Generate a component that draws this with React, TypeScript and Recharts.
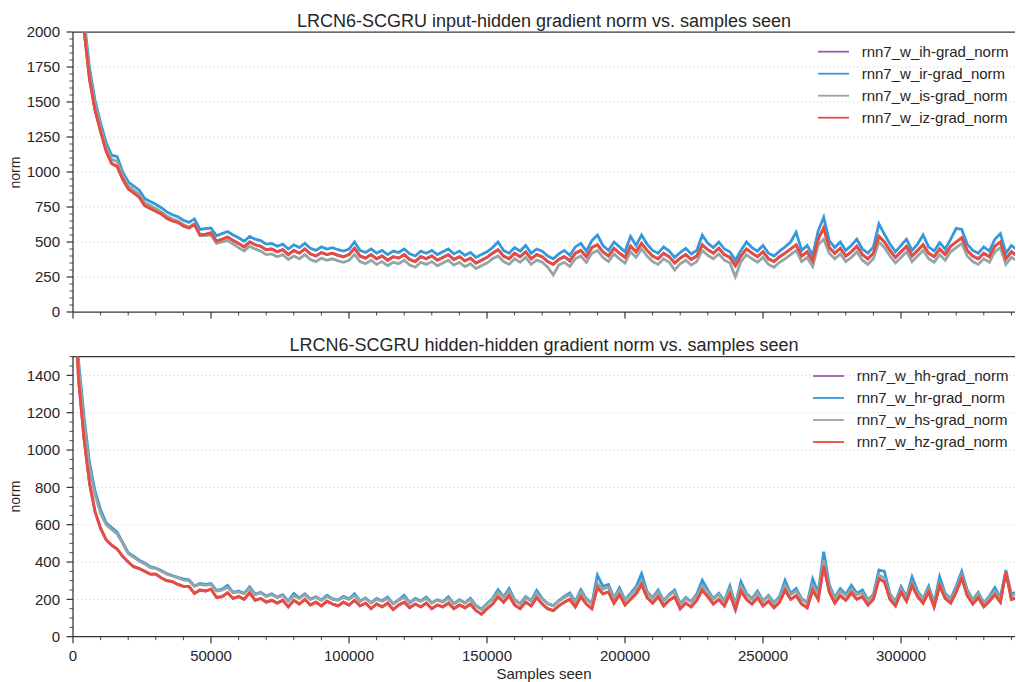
import React from 'react';
import { LineChart, Line, XAxis, YAxis, ReferenceLine } from 'recharts';

// logged every 2000 samples
const samples = Array.from({ length: 172 }, (_, i) => i * 2000);

// input-hidden gradient norms
const inputIz = [
  3200, 2500, 2010, 1660, 1440, 1290, 1150, 1060, 1040, 950,
  880, 850, 820, 760, 740, 720, 700, 670, 650, 640,
  615, 600, 625, 550, 555, 565, 505, 520, 535, 510,
  490, 465, 500, 480, 470, 445, 450, 430, 445, 410,
  440, 420, 450, 415, 400, 425, 410, 420, 405, 395,
  410, 455, 400, 385, 410, 380, 400, 370, 395, 385,
  410, 375, 360, 395, 380, 400, 370, 390, 410, 375,
  395, 365, 385, 350, 370, 390, 420, 445, 400, 380,
  420, 395, 430, 380, 410, 395, 360, 340, 375, 395,
  365, 420, 440, 395, 460, 480, 430, 400, 455, 420,
  390, 470, 430, 490, 440, 400, 380, 420, 395, 350,
  385, 410, 375, 400, 480, 445, 420, 455, 410, 390,
  330, 400, 450, 420, 395, 430, 380, 360, 395, 420,
  450, 480, 400, 430, 365, 520, 600, 460, 420, 455,
  400, 430, 470, 410, 380, 420, 540, 500, 440, 390,
  430, 470, 400, 440, 480, 420, 395, 450, 410, 470,
  500, 530, 440, 400, 380, 420, 395, 470, 500, 380,
  430, 400,
];
const inputIr = [
  3400, 2650, 2100, 1740, 1510, 1350, 1210, 1120, 1110, 1000,
  930, 900, 870, 810, 790, 770, 745, 715, 695, 680,
  655, 640, 665, 590, 595, 600, 545, 560, 575, 550,
  530, 505, 540, 520, 510, 485, 490, 470, 485, 450,
  480, 460, 490, 455, 440, 465, 450, 460, 445, 435,
  450, 500, 440, 425, 450, 420, 440, 410, 435, 425,
  450, 415, 400, 435, 420, 440, 410, 430, 450, 415,
  435, 405, 425, 390, 410, 430, 460, 500, 440, 420,
  460, 435, 475, 420, 450, 435, 400, 380, 415, 440,
  405, 465, 490, 435, 510, 550, 475, 440, 500, 465,
  430, 540, 475, 550, 485, 440, 420, 465, 435, 390,
  425, 455, 415, 440, 550, 490, 460, 500, 450, 430,
  370, 440, 500, 460, 435, 475, 420, 400, 435, 465,
  500, 570, 440, 475, 405, 580, 676, 510, 460, 500,
  440, 475, 520, 450, 420, 465, 629, 555, 485, 430,
  475, 520, 440, 485, 550, 465, 435, 495, 450, 520,
  598, 590, 485, 440, 420, 465, 435, 520, 560, 420,
  475, 445,
];
const inputIs = [
  3300, 2580, 2060, 1700, 1480, 1320, 1180, 1090, 1075, 975,
  905, 870, 840, 780, 760, 740, 715, 685, 665, 650,
  625, 605, 630, 545, 545, 550, 490, 500, 510, 485,
  460, 435, 470, 450, 435, 410, 415, 395, 410, 375,
  400, 380, 410, 375, 360, 385, 370, 380, 365, 355,
  370, 410, 360, 345, 370, 340, 360, 330, 355, 345,
  370, 335, 320, 355, 340, 360, 330, 350, 370, 335,
  355, 325, 345, 310, 330, 350, 380, 400, 360, 340,
  380, 355, 390, 340, 370, 355, 320, 265, 335, 355,
  325, 380, 400, 355, 420, 440, 390, 360, 415, 380,
  350, 430, 390, 450, 400, 360, 340, 380, 355, 300,
  345, 370, 335, 360, 440, 405, 380, 415, 370, 350,
  252, 360, 410, 380, 355, 390, 340, 320, 355, 380,
  410, 440, 360, 390, 325, 480, 520, 420, 380, 415,
  360, 390, 430, 370, 340, 380, 500, 460, 400, 350,
  390, 430, 360, 400, 440, 380, 355, 410, 370, 430,
  460, 490, 400, 360, 340, 380, 355, 430, 460, 340,
  390, 365,
];
// w_ih sits right under w_iz
const inputIh = inputIz;

// hidden-hidden gradient norms
const hiddenHz = [
  2000, 1380, 1060, 820, 670, 580, 520, 490, 470, 430,
  400, 375, 365, 350, 335, 335, 315, 300, 295, 280,
  270, 270, 232, 250, 245, 255, 210, 215, 235, 205,
  215, 200, 235, 195, 205, 185, 195, 180, 195, 160,
  195, 175, 200, 170, 185, 165, 190, 175, 165, 185,
  170, 195, 165, 180, 150, 175, 160, 180, 145, 170,
  185, 155, 175, 160, 180, 150, 170, 160, 180, 150,
  170, 155, 175, 140, 120, 150, 175, 215, 185, 220,
  170, 150, 185, 165, 210, 175, 150, 140, 165, 185,
  200, 160, 215, 175, 150, 265, 230, 240, 180, 225,
  170, 200, 230, 280, 210, 180, 215, 165, 195, 215,
  150, 180, 160, 195, 250, 215, 175, 200, 165, 230,
  145, 245, 200, 175, 210, 165, 190, 155, 185, 250,
  200, 220, 175, 155, 250, 200, 380, 240, 180, 220,
  195, 235, 200, 215, 170, 200, 310, 295, 200, 165,
  240, 190, 275, 215, 180, 240, 160, 275, 205, 180,
  240, 315, 220, 175, 210, 160, 190, 225, 185, 345,
  200, 210,
];
const hiddenHr = [
  2200, 1480, 1180, 930, 780, 680, 610, 585, 560, 505,
  450, 430, 410, 395, 375, 368, 355, 338, 328, 318,
  310, 305, 272, 285, 280, 285, 248, 255, 275, 238,
  245, 232, 268, 228, 238, 218, 230, 212, 225, 192,
  232, 208, 230, 202, 214, 197, 222, 204, 197, 216,
  203, 230, 192, 208, 182, 205, 193, 212, 177, 198,
  222, 183, 205, 192, 212, 182, 198, 188, 214, 177,
  198, 182, 206, 167, 147, 178, 205, 252, 214, 258,
  198, 177, 215, 193, 248, 204, 178, 167, 194, 216,
  235, 188, 252, 204, 178, 330, 270, 280, 208, 262,
  198, 232, 268, 338, 242, 208, 250, 193, 226, 250,
  177, 210, 188, 228, 302, 250, 204, 232, 193, 272,
  172, 295, 232, 204, 245, 193, 222, 182, 216, 302,
  232, 258, 204, 182, 310, 235, 455, 280, 210, 258,
  226, 275, 232, 250, 198, 226, 357, 350, 228, 188,
  268, 215, 320, 245, 204, 270, 182, 321, 232, 204,
  270, 350, 250, 198, 238, 182, 216, 262, 210, 357,
  228, 240,
];
const hiddenHs = [
  2100, 1450, 1150, 900, 760, 660, 600, 575, 550, 500,
  445, 425, 405, 390, 370, 365, 350, 335, 325, 315,
  305, 300, 270, 280, 275, 280, 245, 250, 265, 235,
  240, 230, 260, 225, 235, 215, 225, 210, 220, 190,
  220, 205, 225, 200, 210, 195, 215, 200, 195, 210,
  200, 220, 190, 205, 180, 200, 190, 205, 175, 195,
  210, 180, 200, 190, 205, 180, 195, 185, 205, 175,
  195, 180, 200, 165, 145, 175, 200, 240, 210, 245,
  195, 175, 210, 190, 235, 200, 175, 165, 190, 210,
  225, 185, 240, 200, 175, 285, 255, 265, 205, 250,
  195, 225, 255, 300, 235, 205, 240, 190, 220, 240,
  175, 205, 185, 220, 275, 240, 200, 225, 190, 255,
  170, 270, 225, 200, 235, 190, 215, 180, 210, 275,
  225, 245, 200, 180, 275, 225, 410, 265, 205, 245,
  220, 255, 225, 235, 195, 220, 330, 315, 220, 185,
  255, 210, 290, 235, 200, 255, 180, 290, 225, 200,
  255, 330, 240, 195, 230, 180, 210, 245, 205, 345,
  220, 230,
];
const hiddenHh = hiddenHz;

const xMajor = [0, 50000, 100000, 150000, 200000, 250000, 300000];
const xTicks = [
  0, 10000, 20000, 30000, 40000, 50000, 60000, 70000, 80000, 90000,
  100000, 110000, 120000, 130000, 140000, 150000, 160000, 170000, 180000, 190000,
  200000, 210000, 220000, 230000, 240000, 250000, 260000, 270000, 280000, 290000,
  300000, 310000, 320000, 330000, 340000,
];
const topYMajor = [0, 250, 500, 750, 1000, 1250, 1500, 1750, 2000];
const botYMajor = [0, 200, 400, 600, 800, 1000, 1200, 1400];
const topYTicks = Array.from({ length: 41 }, (_, i) => i * 50);
const botYTicks = Array.from({ length: 31 }, (_, i) => i * 50);

const X_MAX = 341300;
const AXIS = '#333';
const TEXT = '#262626';
const FONT = '"Liberation Sans", Arial, sans-serif';
const PURPLE = '#9b59b6';
const BLUE = '#3498db';
const GRAY = '#95a5a6';
const RED = '#e74c3c';

const topData = samples.map((s, i) => ({
  samples: s, ih: inputIh[i], ir: inputIr[i], is: inputIs[i], iz: inputIz[i],
}));
const botData = samples.map((s, i) => ({
  samples: s, hh: hiddenHh[i], hr: hiddenHr[i], hs: hiddenHs[i], hz: hiddenHz[i],
}));

const renderYTick = (majors: number[]) => (props: any) => {
  const { x, y, payload } = props;
  const major = majors.includes(payload.value);
  const len = major ? 6.5 : 3.5;
  return (
    <g>
      <line x1={x - len} x2={x} y1={y} y2={y} stroke={AXIS} strokeWidth={major ? 1.2 : 0.9} />
      {major && (
        <text x={x - 13} y={y} dy={5.3} textAnchor="end" fontSize={15} fill={TEXT} fontFamily={FONT}>
          {payload.value}
        </text>
      )}
    </g>
  );
};

const renderXTick = (labels: boolean) => (props: any) => {
  const { x, y, payload } = props;
  const major = xMajor.includes(payload.value);
  const len = major ? 6.5 : 3.5;
  return (
    <g>
      <line x1={x} x2={x} y1={y} y2={y + len} stroke={AXIS} strokeWidth={major ? 1.2 : 0.9} />
      {labels && major && (
        <text x={x} y={y + 24.5} textAnchor="middle" fontSize={15} fill={TEXT} fontFamily={FONT}>
          {payload.value}
        </text>
      )}
    </g>
  );
};

function Panel({ data, keys, yMax, yMajor, yTicks, xLabels, height, top, bottom }: any) {
  const colors = [PURPLE, BLUE, GRAY, RED];
  return (
    <LineChart width={1016} height={height} data={data} margin={{ top, right: 1, bottom: 0, left: 0 }}>
      {yMajor.filter((v: number) => v > 0 && v < yMax).map((v: number) => (
        <ReferenceLine key={v} y={v} stroke="#cfcfcf" strokeWidth={0.8} strokeDasharray="1.5 2.5" />
      ))}
      <ReferenceLine y={yMax} stroke={AXIS} strokeWidth={1.25} />
      <XAxis
        dataKey="samples"
        type="number"
        domain={[0, X_MAX]}
        ticks={xTicks}
        interval={0}
        height={bottom}
        tickLine={false}
        tickSize={0}
        tickMargin={0}
        allowDataOverflow
        axisLine={{ stroke: AXIS, strokeWidth: 1.25 }}
        tick={renderXTick(xLabels)}
      />
      <YAxis
        type="number"
        width={73}
        domain={[0, yMax]}
        ticks={yTicks}
        interval={0}
        tickLine={false}
        tickSize={0}
        tickMargin={0}
        allowDataOverflow
        axisLine={{ stroke: AXIS, strokeWidth: 1.25 }}
        tick={renderYTick(yMajor)}
      />
      {keys.map((k: string, i: number) => (
        <Line
          key={k}
          dataKey={k}
          type="linear"
          stroke={colors[i]}
          strokeWidth={2.8}
          strokeLinejoin="miter"
          dot={false}
          isAnimationActive={false}
        />
      ))}
    </LineChart>
  );
}

function LegendBox({ names, top, lineX, textX }: any) {
  const colors = [PURPLE, BLUE, GRAY, RED];
  return (
    <g>
      {names.map((n: string, i: number) => {
        const cy = top + i * 22;
        return (
          <g key={n}>
            <line x1={lineX} x2={lineX + 31} y1={cy} y2={cy} stroke={colors[i]} strokeWidth={1.8} />
            <text x={textX} y={cy + 5.2} fontSize={15} fill={TEXT} fontFamily={FONT}>{n}</text>
          </g>
        );
      })}
    </g>
  );
}

export default function App() {
  return (
    <div style={{ position: 'absolute', left: 0, top: 0, width: 1016, height: 682, background: '#fff' }}>
      <div style={{ position: 'absolute', left: 0, top: 0 }}>
        <Panel
          data={topData}
          keys={['ih', 'ir', 'is', 'iz']}
          yMax={2000}
          yMajor={topYMajor}
          yTicks={topYTicks}
          xLabels={false}
          height={330}
          top={32}
          bottom={18}
        />
      </div>
      <div style={{ position: 'absolute', left: 0, top: 330 }}>
        <Panel
          data={botData}
          keys={['hh', 'hr', 'hs', 'hz']}
          yMax={1500}
          yMajor={botYMajor}
          yTicks={botYTicks}
          xLabels={true}
          height={352}
          top={26.7}
          bottom={45.3}
        />
      </div>
      <svg width={1016} height={682} style={{ position: 'absolute', left: 0, top: 0, pointerEvents: 'none' }}>
        <text x={544} y={26.5} textAnchor="middle" fontSize={18} fill={TEXT} fontFamily={FONT}>
          LRCN6-SCGRU input-hidden gradient norm vs. samples seen
        </text>
        <text x={544} y={350.5} textAnchor="middle" fontSize={18} fill={TEXT} fontFamily={FONT}>
          LRCN6-SCGRU hidden-hidden gradient norm vs. samples seen
        </text>
        <text x={20} y={172.5} transform="rotate(-90 20 172.5)" textAnchor="middle" fontSize={14} fill={TEXT} fontFamily={FONT}>
          norm
        </text>
        <text x={20} y={496.5} transform="rotate(-90 20 496.5)" textAnchor="middle" fontSize={14} fill={TEXT} fontFamily={FONT}>
          norm
        </text>
        <text x={544} y={679} textAnchor="middle" fontSize={15} fill={TEXT} fontFamily={FONT}>
          Samples seen
        </text>
        <LegendBox
          names={['rnn7_w_ih-grad_norm', 'rnn7_w_ir-grad_norm', 'rnn7_w_is-grad_norm', 'rnn7_w_iz-grad_norm']}
          top={51.7}
          lineX={818}
          textX={861.7}
        />
        <LegendBox
          names={['rnn7_w_hh-grad_norm', 'rnn7_w_hr-grad_norm', 'rnn7_w_hs-grad_norm', 'rnn7_w_hz-grad_norm']}
          top={376}
          lineX={813}
          textX={856.7}
        />
      </svg>
    </div>
  );
}
